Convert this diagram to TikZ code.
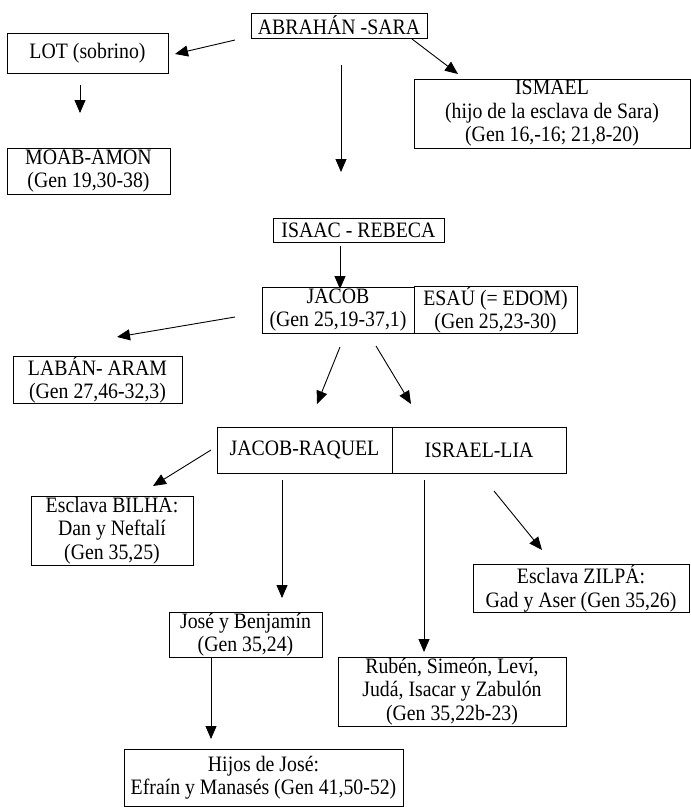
\documentclass[tikz,border=0pt]{standalone}
\usepackage{fontspec}
\setmainfont{Liberation Serif}[FakeStretch=0.9]
\usetikzlibrary{arrows.meta}
\begin{document}
\begin{tikzpicture}[x=1pt,y=-1pt]
\tikzset{box/.style = {draw, line width=0.9pt, align=center, inner sep=0pt, font=\fontsize{22}{23.5}\selectfont}}
\tikzset{arrow/.style = {-{Triangle[length=13pt,width=11pt]}, line width=0.9pt}}
\useasboundingbox (0,0) rectangle (691,807);
% Abrahan y sus ramas
\node[box, minimum width=176, minimum height=25] (abr) at (339,25.5) {ABRAHÁN -SARA};
\node[box, minimum width=161, minimum height=40] (lot) at (87.5,53) {LOT (sobrino)};
\node[box, minimum width=163, minimum height=46] (moab) at (88.5,171) {MOAB-AMON\\(Gen 19,30-38)};
\node[box, minimum width=276, minimum height=69] (ismael) at (552,113.5) {ISMAEL\\(hijo de la esclava de Sara)\\(Gen 16,-16; 21,8-20)};
% Isaac y Jacob
\node[box, minimum width=171, minimum height=24] (isaac) at (358.5,230) {ISAAC - REBECA};
\node[box, minimum width=152, minimum height=46] (jacob) at (338,310) {JACOB\\(Gen 25,19-37,1)};
\node[box, minimum width=163, minimum height=46] (esau) at (495.5,310) {ESAÚ (= EDOM)\\(Gen 25,23-30)};
\node[box, minimum width=169, minimum height=46] (laban) at (97.5,380) {LABÁN- ARAM\\(Gen 27,46-32,3)};
% las doce tribus
\node[box, minimum width=175, minimum height=46] (raquel) at (304.5,450) {JACOB-RAQUEL};
\node[box, minimum width=174, minimum height=46] (lia) at (479,450) {ISRAEL-LIA};
\node[box, minimum width=162, minimum height=69] (bilha) at (112,530.5) {Esclava BILHA:\\Dan y Neftalí\\(Gen 35,25)};
\node[box, minimum width=216, minimum height=47] (zilpa) at (581,588.5) {Esclava ZILPÁ:\\Gad y Aser (Gen 35,26)};
\node[box, minimum width=153, minimum height=45] (jose) at (245.5,634.5) {José y Benjamín\\(Gen 35,24)};
\node[box, minimum width=228, minimum height=69] (ruben) at (452,691.5) {Rubén, Simeón, Leví,\\Judá, Isacar y Zabulón\\(Gen 35,22b-23)};
\node[box, minimum width=279, minimum height=57] (hijos) at (263.5,777.5) {Hijos de José:\\Efraín y Manasés (Gen 41,50-52)};
% puntos sueltos de las flechas
\coordinate (abr-l) at (235,40);   \coordinate (lot-in) at (175,54);
\coordinate (lot-out) at (80,85);  \coordinate (moab-in) at (80,113);
\coordinate (abr-d) at (341,65);   \coordinate (isaac-in) at (341,172);
\coordinate (abr-r) at (412,39);   \coordinate (ismael-in) at (458,74);
\coordinate (isaac-out) at (340,246); \coordinate (jacob-in) at (340,289);
\coordinate (jacob-l) at (235,317); \coordinate (laban-in) at (117,337);
\coordinate (jacob-d1) at (340,347); \coordinate (raquel-in) at (317,404);
\coordinate (jacob-d2) at (376,346); \coordinate (lia-in) at (411,404);
\coordinate (raquel-l) at (211,450); \coordinate (bilha-in) at (153,486);
\coordinate (raquel-d) at (282,480); \coordinate (jose-in) at (282,598);
\coordinate (lia-d) at (424,480);  \coordinate (ruben-in) at (424,652);
\coordinate (lia-r) at (494,491);  \coordinate (zilpa-in) at (542,550);
\coordinate (jose-out) at (211,657); \coordinate (hijos-in) at (211,739);
\path[arrow]
(abr-l) edge (lot-in)
(lot-out) edge (moab-in)
(abr-d) edge (isaac-in)
(abr-r) edge (ismael-in)
(isaac-out) edge (jacob-in)
(jacob-l) edge (laban-in)
(jacob-d1) edge (raquel-in)
(jacob-d2) edge (lia-in)
(raquel-l) edge (bilha-in)
(raquel-d) edge (jose-in)
(lia-d) edge (ruben-in)
(lia-r) edge (zilpa-in)
(jose-out) edge (hijos-in);
\end{tikzpicture}
\end{document}
